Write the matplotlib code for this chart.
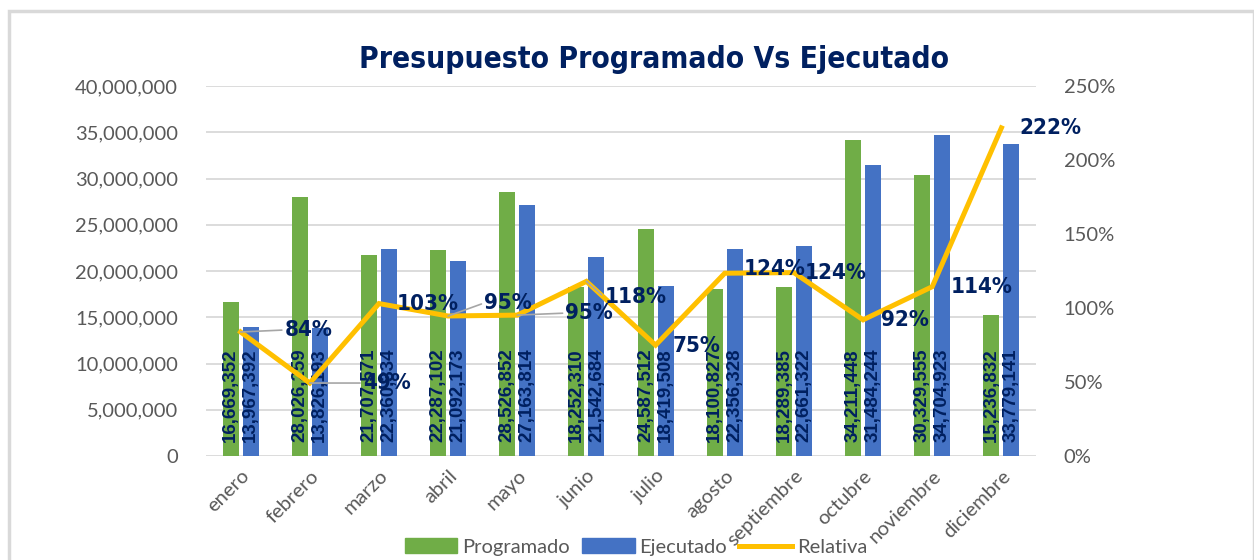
import numpy as np
import matplotlib
matplotlib.use("Agg")
import matplotlib.pyplot as plt
from matplotlib import font_manager as fm
from matplotlib.patches import Patch, Rectangle
from matplotlib.lines import Line2D
from matplotlib.ticker import FuncFormatter, MultipleLocator

# ---------------- data ----------------
meses = ["enero", "febrero", "marzo", "abril", "mayo", "junio", "julio",
         "agosto", "septiembre", "octubre", "noviembre", "diciembre"]
programado = [16669352, 28026259, 21707571, 22287102, 28526852, 18252310,
              24587512, 18100827, 18289385, 34211448, 30329555, 15236832]
ejecutado = [13967392, 13826193, 22360334, 21092173, 27163814, 21542684,
             18419508, 22356328, 22661322, 31484244, 34704923, 33779141]
relativa = [0.838, 0.493, 1.030, 0.946, 0.952, 1.180, 0.749, 1.235,
            1.239, 0.920, 1.144, 2.217]
titulo = "Presupuesto Programado Vs Ejecutado"

# ---------------- layout / style ----------------
# label offsets (pixels) of percentage labels relative to line points
pct_offsets = [(68, 2), (77, 0), (49, 0), (60, 13), (72, 2), (49, -16),
               (41, -1), (50, 4), (42, 0), (42, 0), (49, 0), (49, 0)]
leaders = [True, True, False, True, True, True, False, False, False,
           False, False, False]

C_PROG = "#70AD47"
C_EJEC = "#4472C4"
C_REL = "#FFC000"
C_NAVY = "#002060"
C_GRAY = "#595959"
C_GRID = "#D9D9D9"

ttf = fm.fontManager.ttflist
names = {f.name for f in ttf}


def pick_narrow():
    if "Liberation Sans Narrow" in names:
        return dict(family="Liberation Sans Narrow")
    if any(f.name == "DejaVu Sans" and f.stretch in ("condensed", 600, "semi-condensed")
           for f in ttf):
        return dict(family="DejaVu Sans", stretch="condensed")
    return dict(family="Roboto")


NARROW = pick_narrow()
BODY = "Lato" if "Lato" in names else "DejaVu Sans"
ARIAL = "Liberation Sans" if "Liberation Sans" in names else "DejaVu Sans"

W, H = 1254, 560
fig = plt.figure(figsize=(W / 100, H / 100), dpi=100)

# chart border
fig.patches.append(Rectangle((8.5 / W, -0.05), (1253.5 - 8.5) / W, 1.05 - 10.5 / H,
                             transform=fig.transFigure, fill=False,
                             ec=C_GRID, lw=2.5, zorder=0))

ax = fig.add_axes([206 / W, 104 / H, (1036 - 206) / W, (456 - 86) / H])
ax2 = ax.twinx()

x = np.arange(len(meses))
bw = 0.23
off = 0.145

ax.bar(x - off, programado, bw, color=C_PROG, zorder=2)
ax.bar(x + off, ejecutado, bw, color=C_EJEC, zorder=2)

for xi, v in zip(x - off, programado):
    ax.annotate(f"{v:,}", (xi, 0), xytext=(0, 14), textcoords="offset pixels",
                rotation=90, ha="center", va="bottom", color=C_NAVY,
                fontsize=13.5, family=ARIAL, weight="bold", zorder=3)
for xi, v in zip(x + off, ejecutado):
    ax.annotate(f"{v:,}", (xi, 0), xytext=(0, 14), textcoords="offset pixels",
                rotation=90, ha="center", va="bottom", color=C_NAVY,
                fontsize=13.5, family=ARIAL, weight="bold", zorder=3)

ax.set_xlim(-0.5, len(meses) - 0.5)
ax.set_ylim(0, 40000000)
ax.yaxis.set_major_locator(MultipleLocator(5000000))
ax.yaxis.set_major_formatter(FuncFormatter(lambda v, p: f"{int(v):,}"))
ax.grid(axis="y", color=C_GRID, lw=1.3, zorder=0)
ax.set_axisbelow(True)
for s in ax.spines.values():
    s.set_visible(False)
for s in ax2.spines.values():
    s.set_visible(False)
ax.tick_params(axis="both", length=0, colors=C_GRAY, labelsize=14.5)
ax.tick_params(axis="y", pad=20)
ax.set_xticks(x)
ax.set_xticklabels(meses, rotation=45, ha="right", rotation_mode="anchor",
                   family=BODY, color=C_GRAY)
ax.tick_params(axis="x", pad=8)
for lab in ax.get_yticklabels():
    lab.set_family(BODY)

# line on secondary axis
ax2.plot(x, relativa, color=C_REL, lw=3.6, solid_joinstyle="miter", zorder=4)
ax2.set_ylim(0, 2.5)
ax2.yaxis.set_major_locator(MultipleLocator(0.5))
ax2.yaxis.set_major_formatter(FuncFormatter(lambda v, p: f"{v * 100:.0f}%"))
ax2.tick_params(axis="y", length=0, colors=C_GRAY, labelsize=14.5, pad=20)
for lab in ax2.get_yticklabels():
    lab.set_family(BODY)

for xi, r, (dx, dy), ld in zip(x, relativa, pct_offsets, leaders):
    kw = dict(arrowprops=dict(arrowstyle="-", color="#A6A6A6", lw=1.2,
                              shrinkA=0, shrinkB=0, relpos=(0, 0.5))) if ld else {}
    ax2.annotate(f"{r * 100:.0f}%", (xi, r), xytext=(dx, dy),
                 textcoords="offset pixels", ha="center", va="center",
                 color=C_NAVY, fontsize=16, weight="bold", zorder=6, **NARROW, **kw)

fig.text(654 / W, 1 - 68 / H, titulo, ha="center", va="baseline",
         fontsize=21.5, weight="bold", color=C_NAVY, **NARROW)

handles = [Patch(color=C_PROG), Patch(color=C_EJEC),
           Line2D([0], [0], color=C_REL, lw=3.6)]
leg = fig.legend(handles, ["Programado", "Ejecutado", "Relativa"],
                 loc="center", bbox_to_anchor=(636 / W, 13 / H), ncol=3,
                 frameon=False, handlelength=2.6,
                 handleheight=0.7, columnspacing=0.6, handletextpad=0.25,
                 prop=dict(family=BODY, size=14.5))
for t in leg.get_texts():
    t.set_color(C_GRAY)

fig.savefig("out.png", dpi=100)
